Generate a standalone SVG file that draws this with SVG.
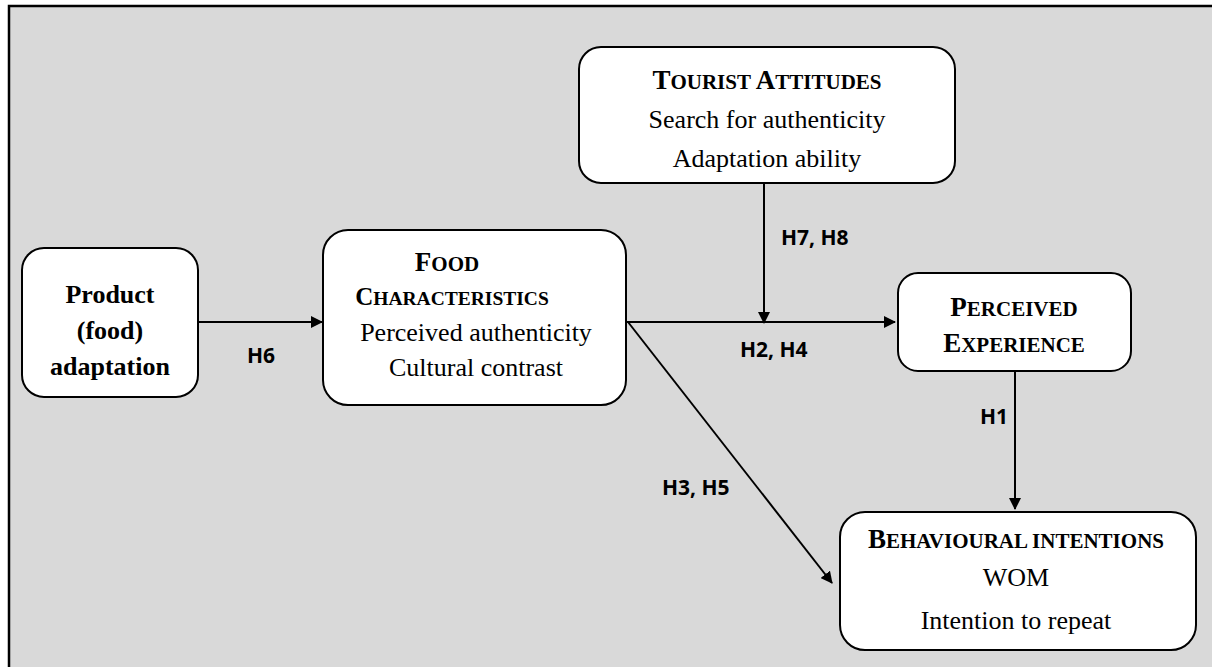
<svg xmlns="http://www.w3.org/2000/svg" width="1212" height="667" viewBox="0 0 1212 667">
<defs>
<marker id="ah" markerWidth="12" markerHeight="12" refX="11" refY="6" orient="auto" markerUnits="userSpaceOnUse" viewBox="0 0 12 12">
<path d="M0,0 L12,6 L0,12 z" fill="#000"/>
</marker>
<style>
.box{fill:#fff;stroke:#000;stroke-width:2}
.t{font-family:"Liberation Serif","Times New Roman",serif;fill:#000;text-anchor:middle;font-size:26px}
.b{font-weight:bold}
.lbl{font-family:"Open Sans","Liberation Sans",sans-serif;font-weight:bold;font-size:21px;fill:#000}
.ln{stroke:#000;stroke-width:2;fill:none}
.big{font-size:27px}
.sm{font-size:21px}
</style>
</defs>
<rect x="0" y="0" width="1212" height="667" fill="#fff"/>
<rect x="9" y="6" width="1220" height="680" fill="#d9d9d9" stroke="#000" stroke-width="2.5"/>
<g id="connectors">
<line class="ln" x1="198" y1="322" x2="322" y2="322" marker-end="url(#ah)"/>
<line class="ln" x1="626" y1="322" x2="895" y2="322" marker-end="url(#ah)"/>
<line class="ln" x1="764" y1="183" x2="764" y2="323" marker-end="url(#ah)"/>
<line class="ln" x1="1015" y1="371" x2="1015" y2="509" marker-end="url(#ah)"/>
<line class="ln" x1="628" y1="322" x2="832" y2="583" marker-end="url(#ah)"/>
<text class="lbl" x="781" y="245">H7, H8</text>
<text class="lbl" x="740" y="357">H2, H4</text>
<text class="lbl" x="247" y="363">H6</text>
<text class="lbl" x="980" y="424">H1</text>
<text class="lbl" x="662" y="495">H3, H5</text>
</g>
<g id="product">
<rect class="box" x="22" y="248" width="176" height="149" rx="22"/>
<text class="t b" x="110" y="303">Product</text>
<text class="t b" x="110" y="339">(food)</text>
<text class="t b" x="110" y="375">adaptation</text>
</g>
<g id="food">
<rect class="box" x="323" y="230" width="303" height="175" rx="25"/>
<text class="t b" x="447" y="271"><tspan class="big">F</tspan><tspan class="sm">OOD</tspan></text>
<text class="t b" x="452" y="305"><tspan font-size="25">C</tspan><tspan font-size="19.5">HARACTERISTICS</tspan></text>
<text class="t" x="476" y="341" font-size="29">Perceived authenticity</text>
<text class="t" x="476" y="376" font-size="29">Cultural contrast</text>
</g>
<g id="tourist">
<rect class="box" x="579" y="47" width="376" height="136" rx="22"/>
<text class="t b" x="767" y="89"><tspan class="big">T</tspan><tspan class="sm">OURIST </tspan><tspan class="big">A</tspan><tspan class="sm">TTITUDES</tspan></text>
<text class="t" x="767" y="128" font-size="26.5">Search for authenticity</text>
<text class="t" x="767" y="167" font-size="26.5">Adaptation ability</text>
</g>
<g id="perceived">
<rect class="box" x="898" y="273" width="233" height="98" rx="20"/>
<text class="t b" x="1014" y="316"><tspan class="big">P</tspan><tspan class="sm">ERCEIVED</tspan></text>
<text class="t b" x="1014" y="352"><tspan class="big">E</tspan><tspan class="sm">XPERIENCE</tspan></text>
</g>
<g id="behavioural">
<rect class="box" x="840" y="512" width="356" height="138" rx="25"/>
<text class="t b" x="1016" y="548"><tspan class="big">B</tspan><tspan class="sm">EHAVIOURAL INTENTIONS</tspan></text>
<text class="t" x="1016" y="586">WOM</text>
<text class="t" x="1016" y="629">Intention to repeat</text>
</g>
</svg>
